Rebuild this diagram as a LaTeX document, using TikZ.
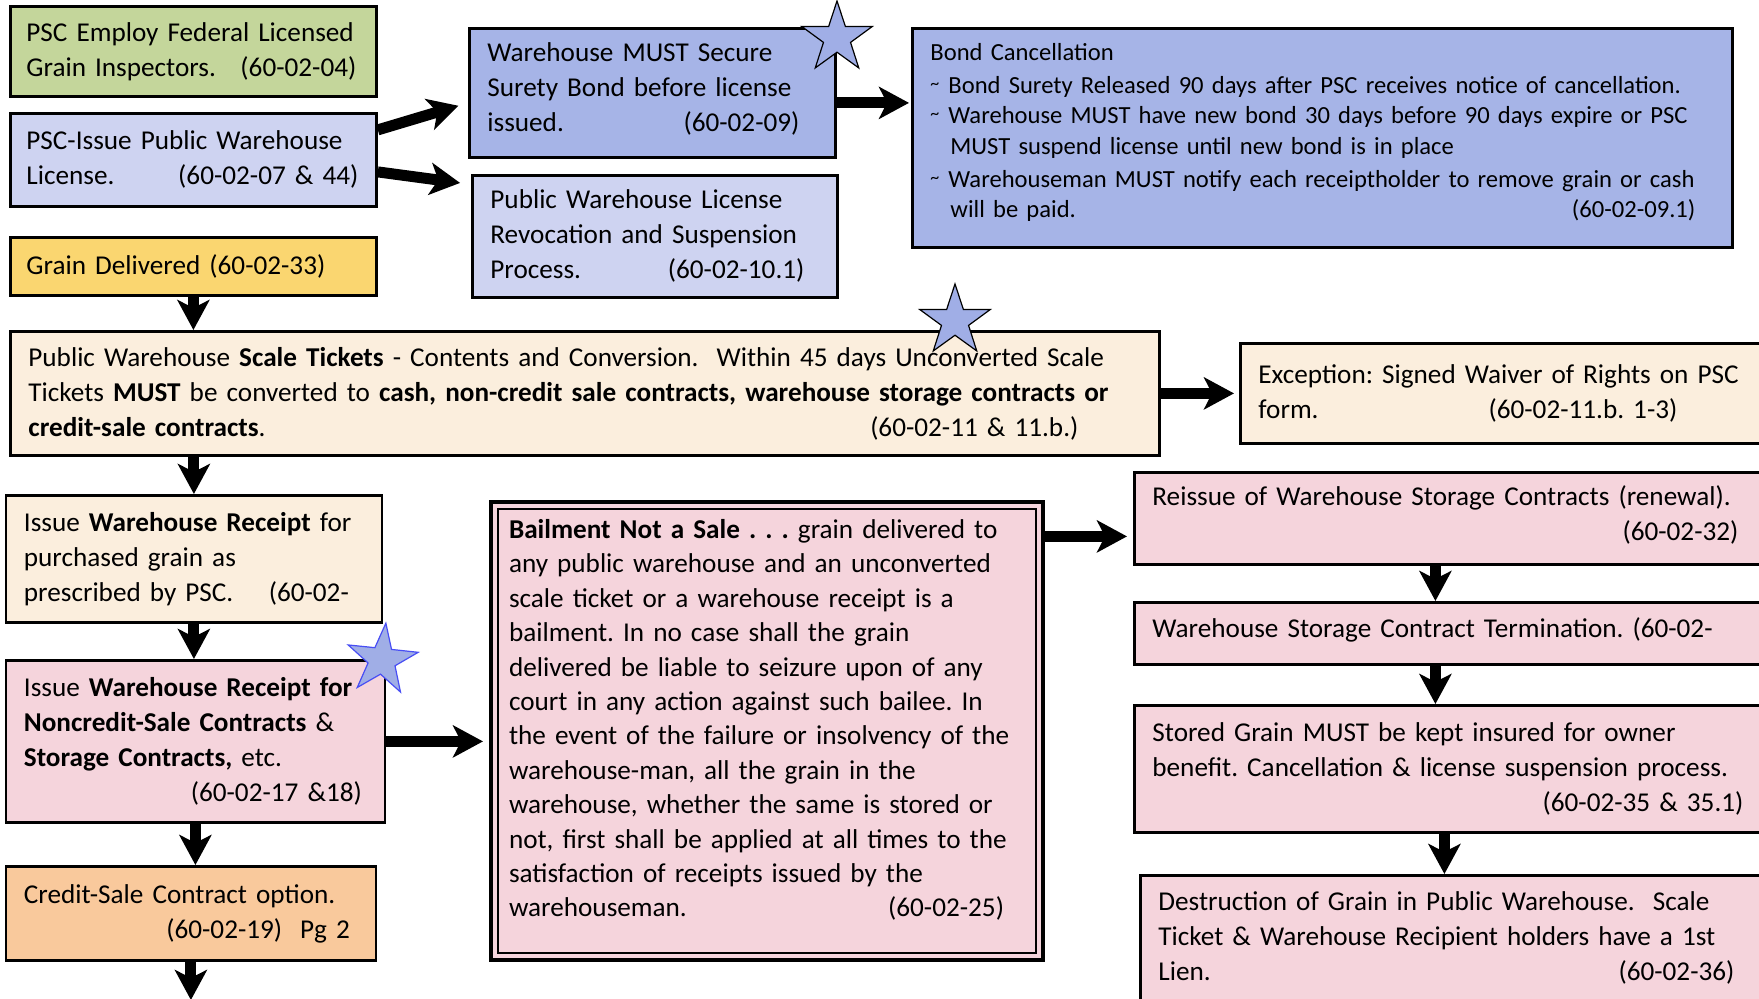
\documentclass[tikz,border=0pt]{standalone}
\usepackage{fontspec}
\setmainfont{Carlito}
\usetikzlibrary{arrows.meta,shapes.geometric}
\definecolor{inspgreen}{RGB}{196,214,155}
\definecolor{licblue}{RGB}{206,211,241}
\definecolor{bondblue}{RGB}{166,180,231}
\definecolor{grainyellow}{RGB}{250,214,112}
\definecolor{ticketcream}{RGB}{251,238,221}
\definecolor{receiptpink}{RGB}{245,212,220}
\definecolor{creditorange}{RGB}{249,201,156}
\definecolor{starblue}{RGB}{160,174,230}
\hyphenpenalty=10000
\exhyphenpenalty=10000
\newcommand{\boxfont}{\frenchspacing\fontsize{13.6}{17.5}\selectfont}
\newcommand{\tld}{\makebox[9pt][l]{\raisebox{.35ex}{\fontsize{9}{9}\selectfont\textasciitilde}}}
\newcommand{\tailgap}[1]{\rule{#1}{0pt}}
\newcommand{\lift}[1]{\rule[-#1]{0pt}{#1}}

\begin{document}
\begin{tikzpicture}[x=0.5pt,y=-0.5pt,
    box/.style={draw, line width=1.4pt, anchor=north west, align=left,
      inner xsep=9pt, inner ysep=3pt, font=\boxfont},
    flow/.style={line width=5.5pt, -{Stealth[length=15pt,width=16pt,inset=4pt]}},
    bluestar/.style={star, star points=5, star point ratio=2.6, minimum size=37pt,
      inner sep=0pt, fill=starblue, draw=black, line width=0.6pt}]
  \useasboundingbox (0,0) rectangle (1759,999);
  \fill[white] (0,0) rectangle (1759,999);
  \clip (0,0) rectangle (1759,999);

  % licensing
  \node[box, fill=inspgreen, inner xsep=8pt, text width=167pt, minimum height=45pt] (inspect) at (9,5)
    {PSC Employ Federal Licensed\\ Grain Inspectors.\hfill(60-02-04)\tailgap{2pt}};
  \node[box, fill=licblue, inner xsep=8pt, text width=167pt, minimum height=46.5pt] (license) at (9,112)
    {PSC-Issue Public Warehouse\\ License.\hfill(60-02-07 \& 44)\tailgap{1pt}};
  \node[box, fill=grainyellow, inner xsep=8pt, text width=167pt, minimum height=29pt] (delivered) at (9,236)
    {Grain Delivered (60-02-33)};
  \node[box, fill=bondblue, text width=165pt, minimum height=64.5pt] (surety) at (468,27)
    {Warehouse MUST Secure\\ Surety Bond before license\\ issued.\hfill(60-02-09)\tailgap{9pt}\lift{5.5pt}};
  \node[box, fill=licblue, text width=164.5pt, minimum height=61pt] (revoke) at (471,174)
    {Public Warehouse License\\ Revocation and Suspension\\ Process.\hfill(60-02-10.1)\tailgap{7.5pt}};
  \node[box, fill=bondblue, text width=392pt, minimum height=109.5pt,
      font=\frenchspacing\fontsize{12.3}{15.1}\selectfont] (cancel) at (911,27)
    {Bond Cancellation\\[1.7pt]
     \tld Bond Surety Released 90 days after PSC receives notice of cancellation.\\
     \tld Warehouse MUST have new bond 30 days before 90 days expire or PSC\\
     \hspace*{10pt}MUST suspend license until new bond is in place\\[1.7pt]
     \tld Warehouseman MUST notify each receiptholder to remove grain or cash\\
     \hspace*{10pt}will be paid.\hfill(60-02-09.1)\tailgap{9.5pt}\lift{7.5pt}};

  % scale tickets
  \node[box, fill=ticketcream, text width=556.5pt, minimum height=62pt] (tickets) at (9,330)
    {Public Warehouse \textbf{Scale Tickets} - Contents and Conversion.\ \ Within 45 days Unconverted Scale\\
     Tickets \textbf{MUST} be converted to \textbf{cash, non-credit sale contracts, warehouse storage contracts or}\\
     \textbf{credit-sale contracts}.\hfill(60-02-11 \& 11.b.)\tailgap{31.5pt}};
  \node[box, fill=ticketcream, text width=252.5pt, minimum height=50pt] (waiver) at (1239,342)
    {Exception: Signed Waiver of Rights on PSC\\ form.\hspace{85pt}(60-02-11.b. 1-3)};

  % receipts
  \node[box, fill=ticketcream, text width=170pt, minimum height=63.5pt] (receipt) at (4.5,494)
    {Issue \textbf{Warehouse Receipt} for\\ purchased grain as\\ prescribed by PSC.\hfill(60-02-\tailgap{7.5pt}};
  \node[box, fill=receiptpink, text width=171.5pt, minimum height=81pt] (noncredit) at (4.5,659)
    {Issue \textbf{Warehouse Receipt for}\\ \textbf{Noncredit-Sale Contracts} \&\\
     \textbf{Storage Contracts,} etc.\\ \mbox{}\hfill(60-02-17 \&18)\tailgap{2.5pt}};
  \node[box, fill=creditorange, text width=167pt, minimum height=47pt] (credit) at (4.5,865)
    {Credit-Sale Contract option.\\ \mbox{}\hfill(60-02-19)\hspace{9pt}Pg 2\tailgap{4pt}};
  \coordinate (pagetwo) at (189,1000);

  % bailment
  \node[box, fill=receiptpink, line width=2pt, text width=258pt, minimum height=229pt,
      font=\frenchspacing\fontsize{13.6}{17.2}\selectfont] (bailment) at (489,500)
    {\textbf{Bailment Not a Sale . . .} grain delivered to\\
     any public warehouse and an unconverted\\
     scale ticket or a warehouse receipt is a\\
     bailment. In no case shall the grain\\
     delivered be liable to seizure upon of any\\
     court in any action against such bailee. In\\
     the event of the failure or insolvency of the\\
     warehouse-man, all the grain in the\\
     warehouse, whether the same is stored or\\
     not, first shall be applied at all times to the\\
     satisfaction of receipts issued by the\\
     warehouseman.\hfill(60-02-25)\tailgap{10.5pt}\lift{12.9pt}};
  \draw[line width=1pt] ([shift={(4.5pt,-4.5pt)}]bailment.north west)
    rectangle ([shift={(-4.5pt,4.5pt)}]bailment.south east);

  % storage contracts
  \node[box, fill=receiptpink, text width=297pt, minimum height=46pt] (reissue) at (1133,471)
    {Reissue of Warehouse Storage Contracts (renewal).\\ \mbox{}\hfill(60-02-32)\tailgap{4pt}\lift{5pt}};
  \node[box, fill=receiptpink, text width=297pt, minimum height=31pt] (terminate) at (1133,601)
    {Warehouse Storage Contract Termination. (60-02-\lift{6pt}};
  \node[box, fill=receiptpink, text width=297pt, minimum height=63.5pt] (insured) at (1133,704)
    {Stored Grain MUST be kept insured for owner\\
     benefit. Cancellation \& license suspension process.\\ \mbox{}\hfill(60-02-35 \& 35.1)\tailgap{1.5pt}};
  \node[box, fill=receiptpink, text width=294pt, minimum height=62.5pt] (destroy) at (1139,874)
    {Destruction of Grain in Public Warehouse.\ \ Scale\\
     Ticket \& Warehouse Recipient holders have a 1st\\ Lien.\hfill(60-02-36)\tailgap{6pt}};

  % arrows
  \draw[flow, shorten >=5pt] ([yshift=15pt]license.east) -- ([yshift=-5pt]surety.west);
  \draw[flow, shorten >=5.5pt] ([yshift=-6pt]license.east) -- ([yshift=26pt]revoke.west);
  \draw[flow, shorten >=1pt] ([yshift=-5pt]surety.east) -- ([yshift=17.5pt]cancel.west);
  \draw[flow] (delivered.south) -- (delivered.south |- tickets.north);
  \draw[flow, shorten >=2.5pt] (tickets.east) -- (waiver.west);
  \draw[flow] (tickets.south -| receipt.north) -- (receipt.north);
  \draw[flow] (receipt.south) -- (receipt.south |- noncredit.north);
  \draw[flow, shorten >=3pt] (noncredit.east) -- (noncredit.east -| bailment.west);
  \draw[flow] (noncredit.south) -- (noncredit.south |- credit.north);
  \draw[flow] (credit.south) -- (credit.south |- pagetwo);
  \draw[flow, shorten >=3pt] ([yshift=-9pt]reissue.west -| bailment.east) -- ([yshift=-9pt]reissue.west);
  \draw[flow] ([xshift=-7pt]reissue.south) -- ([xshift=-7pt]reissue.south |- terminate.north);
  \draw[flow] ([xshift=-7pt]terminate.south) -- ([xshift=-7pt]terminate.south |- insured.north);
  \draw[flow] ([xshift=-2.5pt]insured.south) -- ([xshift=-2.5pt]insured.south |- destroy.north);

  % stars
  \node[bluestar] (star1) at (837,38) {};
  \node[bluestar] (star2) at (955,321) {};
  \node[bluestar, draw=blue!55!starblue, rotate=-6] (star3) at (382,660) {};
\end{tikzpicture}
\end{document}
